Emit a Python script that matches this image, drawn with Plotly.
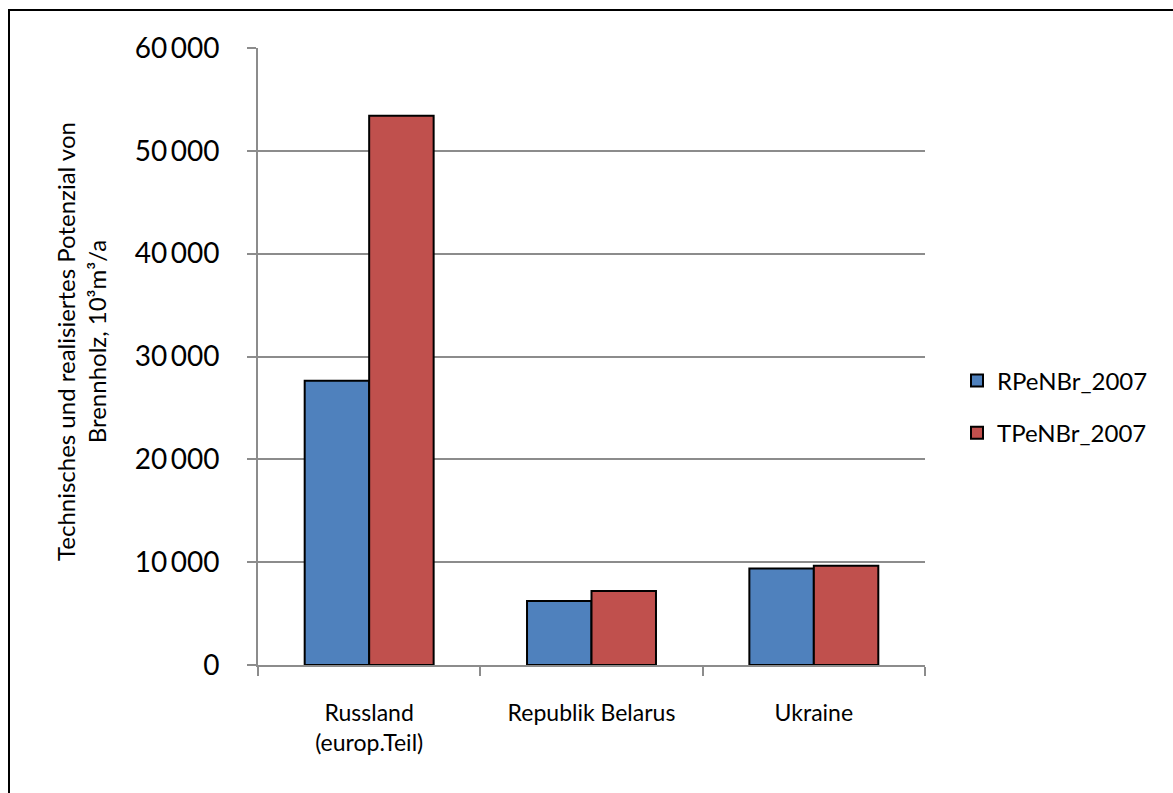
import plotly.graph_objects as go

# Brennholz-Potenzial 2007 je Land (10^3 m^3/a)
categories = ["Russland<br>(europ.Teil)", "Republik Belarus", "Ukraine"]
rpenbr_2007 = [27650, 6230, 9380]
tpenbr_2007 = [53400, 7200, 9640]
series_names = ["RPeNBr_2007", "TPeNBr_2007"]
y_tick_values = [0, 10000, 20000, 30000, 40000, 50000, 60000]
y_tick_labels = ["0", "10\u2009000", "20\u2009000", "30\u2009000", "40\u2009000", "50\u2009000", "60\u2009000"]

FONT = "Lato, 'Open Sans', sans-serif"
GRID = "#8c8c8c"

W, H = 1173, 793
L, R, T, B = 258, 248, 48, 128
pw, ph = W - L - R, H - T - B


def px_x(x):
    return (x - L) / pw


def px_y(y):
    return (H - B - y) / ph


fig = go.Figure()
fig.add_trace(go.Bar(
    x=categories, y=rpenbr_2007, name=series_names[0], legendgroup="a",
    marker=dict(color="#4F81BD", line=dict(color="black", width=2)),
))
fig.add_trace(go.Bar(
    x=categories, y=tpenbr_2007, name=series_names[1], legendgroup="b",
    marker=dict(color="#C0504D", line=dict(color="black", width=2)),
))

fig.update_layout(
    width=W, height=H,
    margin=dict(l=L, r=R, t=T, b=B, pad=0),
    paper_bgcolor="white", plot_bgcolor="white",
    barmode="group", bargap=0.42, bargroupgap=0,
    font=dict(family=FONT, color="black"),
    showlegend=True,
    legend=dict(
        x=px_x(957), y=px_y(407), xanchor="left", yanchor="middle",
        font=dict(size=24, family=FONT), bgcolor="rgba(0,0,0,0)",
        traceorder="grouped", tracegroupgap=18,
    ),
    xaxis=dict(
        showgrid=False, showline=True, linecolor=GRID, linewidth=2,
        ticks="outside", tickson="boundaries", ticklen=9, tickcolor=GRID, tickwidth=2,
        tickfont=dict(size=23, family=FONT), ticklabelstandoff=26,
    ),
    yaxis=dict(
        range=[0, 60000], tickvals=y_tick_values, ticktext=y_tick_labels,
        showgrid=True, gridcolor=GRID, gridwidth=2,
        showline=True, linecolor=GRID, linewidth=2,
        ticks="outside", ticklen=9, tickcolor=GRID, tickwidth=2,
        tickfont=dict(size=28, family=FONT), ticklabelstandoff=22,
        zeroline=False,
    ),
    annotations=[dict(
        text="Technisches und realisiertes Potenzial von<br>Brennholz, 10³m³/a",
        x=px_x(81), y=px_y(342), xref="paper", yref="paper",
        xanchor="center", yanchor="middle", textangle=-90, showarrow=False,
        font=dict(size=24, family=FONT),
    )],
    shapes=[dict(
        type="rect", xref="paper", yref="paper",
        x0=px_x(9), x1=px_x(1185), y0=px_y(805), y1=px_y(10),
        line=dict(color="black", width=2), fillcolor="rgba(0,0,0,0)", layer="below",
    )],
)

fig.write_html("out.html")
